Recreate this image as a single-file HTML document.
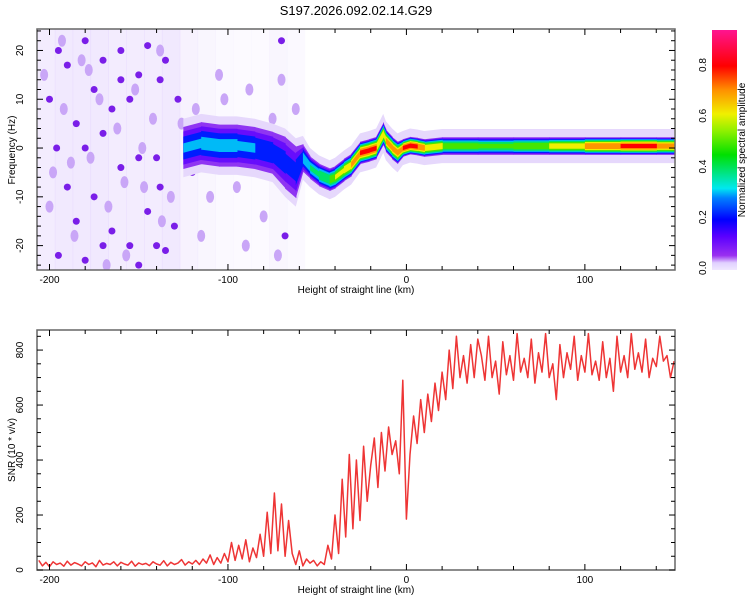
<!DOCTYPE html>
<html><head><meta charset="utf-8">
<style>
html,body{margin:0;padding:0;background:#fff;}
svg text{font-family:"Liberation Sans",sans-serif;fill:#000;}
</style></head>
<body>
<svg id="chart" width="750" height="600" viewBox="0 0 750 600" xmlns="http://www.w3.org/2000/svg">
<defs>
<linearGradient id="cbgrad" x1="0" y1="1" x2="0" y2="0">
<stop offset="0" stop-color="#f0e8ff"/><stop offset="0.03" stop-color="#e0d0ff"/>
<stop offset="0.06" stop-color="#9a30f0"/><stop offset="0.14" stop-color="#5a00ff"/>
<stop offset="0.21" stop-color="#0000ff"/><stop offset="0.3" stop-color="#0080ff"/>
<stop offset="0.34" stop-color="#00e8f0"/><stop offset="0.48" stop-color="#00e000"/>
<stop offset="0.58" stop-color="#90f000"/><stop offset="0.65" stop-color="#f0f000"/>
<stop offset="0.75" stop-color="#ff9000"/><stop offset="0.85" stop-color="#ff0000"/>
<stop offset="1" stop-color="#ff1490"/>
</linearGradient>
<clipPath id="clipTop"><rect x="37" y="29" width="638" height="241"/></clipPath>
<clipPath id="clipBot"><rect x="37" y="330" width="638" height="240"/></clipPath>
</defs>
<text x="356" y="15" font-size="13" text-anchor="middle">S197.2026.092.02.14.G29</text>
<g id="topg" clip-path="url(#clipTop)"></g>
<g id="botg" clip-path="url(#clipBot)"></g>
<g id="axes"></g>
<rect x="712" y="30" width="25" height="240" fill="url(#cbgrad)"/>
<text transform="translate(745,150) rotate(-90)" font-size="10" text-anchor="middle">Normalized spectral amplitude</text>
<text x="356" y="293" font-size="10" text-anchor="middle">Height of straight line (km)</text>
<text x="356" y="593" font-size="10" text-anchor="middle">Height of straight line (km)</text>
<text transform="translate(15,150) rotate(-90)" font-size="10" text-anchor="middle">Frequency (Hz)</text>
<text transform="translate(15,450) rotate(-90)" font-size="10" text-anchor="middle">SNR (10 * v/v)</text>
</svg>
<script>
// ---- data ----
const xTicksLabeled = [-200, -100, 0, 100];
const freqTicks = [-20, -10, 0, 10, 20];
const snrTicks = [0, 200, 400, 600, 800];
const cbTicks = [0.0, 0.2, 0.4, 0.6, 0.8];
const ridgeX = [-125,-115,-105,-95,-85,-75,-68,-62,-58,-54,-49,-43,-40,-35,-31,-26,-21,-17,-13,-11.5,-8,-5,-2,2,6,10,20,40,60,80,100,120,140,150];
const ridgeF = [0,1,0.5,0.5,0,-1,-3,-5,-2,-4,-5.5,-6.5,-6,-4.5,-3.5,-1,-0.5,0,3,1.5,0,-1,0,0.5,0.3,0,0.4,0.4,0.4,0.4,0.4,0.4,0.4,0.4];
const ridgeAmp = [0.3,0.35,0.35,0.35,0.3,0.3,0.25,0.25,0.35,0.4,0.45,0.55,0.6,0.65,0.7,0.8,0.85,0.8,0.6,0.7,0.8,0.7,0.8,0.85,0.8,0.75,0.6,0.5,0.55,0.6,0.7,0.85,0.8,0.7];
const ridgeWidth = [4,4,4,4,4,4,5,5,2.5,2,2,2,2,2,2,2,2,2,2,2,2,2,1.5,1.5,1.5,1.5,1.5,1.5,1.5,1.5,1.5,1.5,1.5,1.5];
const noiseBinX = [-207,-197,-187,-177,-167,-157,-147,-137,-127,-117,-107,-97,-87,-77,-67];
const noiseDensity = [0.45,0.5,0.5,0.5,0.45,0.45,0.45,0.5,0.3,0.2,0.15,0.12,0.12,0.2,0.15];
const blobX = [-195,-190,-180,-170,-160,-150,-145,-175,-165,-155,-185,-170,-150,-160,-190,-175,-145,-185,-165,-155,-140,-135,-195,-180,-150,-138,-140,-138,-180,-196,-130,-135,-128,-120,-70,-68,-65,-200,-170,-160];
const blobF = [20,17,22,18,20,15,21,12,8,10,5,3,-2,-4,-8,-10,-13,-15,-17,-20,-20,-21,-22,-23,-24,-8,-2,14,0,0,-16,18,10,-5,22,-18,-10,10,-20,14];
const lightBlobX = [-203,-198,-192,-186,-182,-177,-172,-167,-162,-157,-152,-147,-142,-137,-200,-193,-188,-178,-168,-158,-148,-138,-132,-126,-118,-110,-102,-95,-88,-80,-75,-70,-66,-62,-115,-105,-90,-72];
const lightBlobF = [15,-5,8,-18,18,-2,10,-12,4,-22,12,-8,6,-15,-12,22,-3,16,-24,-7,0,20,-10,5,8,-10,10,-8,12,-14,6,14,-4,8,-18,15,-20,-22];
const snrStart = -206, snrStep = 2;
const snrValues = [35,15,28,12,30,20,25,14,32,18,27,22,15,30,20,26,12,35,18,24,20,30,15,28,22,18,32,14,26,20,24,16,30,22,18,34,15,28,20,25,38,18,30,22,35,20,40,25,
55,20,45,25,60,30,100,35,90,40,
110,30,80,45,130,50,210,60,280,70,240,50,180,
60,20,70,15,40,25,35,15,30,20,
90,40,200,60,330,120,420,150,400,180,450,250,
380,480,300,500,360,520,420,470,350,
690,185,420,
560,460,620,500,640,540,680,580,
720,620,800,660,850,700,780,680,820,700,840,
780,690,850,700,760,640,830,710,780,690,860,720,770,700,840,680,790,720,860,700,750,620,820,700,790,730,850,690,780,720,860,710,760,690,830,700,770,650,850,720,780,700,860,730,790,720,840,700,770,740,850,760,780,700,760];

// ---- scales ----
const X0=37,X1=675,XMIN=-207,XMAX=150.5;
const sx=v=>X0+(v-XMIN)/(XMAX-XMIN)*(X1-X0);
const TY0=29,TY1=270,FMIN=-25,FMAX=24.4;
const sf=v=>TY1-(v-FMIN)/(FMAX-FMIN)*(TY1-TY0);
const BY0=330,BY1=570,SMIN=0,SMAX=873;
const ss=v=>BY1-(v-SMIN)/(SMAX-SMIN)*(BY1-BY0);
const cby=v=>268-v/0.8*(268-65);
const NS="http://www.w3.org/2000/svg";
function mk(tag,attrs,parent){const e=document.createElementNS(NS,tag);for(const k in attrs)e.setAttribute(k,attrs[k]);parent.appendChild(e);return e;}
const stops=[[0,[236,224,255]],[0.05,[150,60,240]],[0.14,[90,0,255]],[0.2,[0,0,255]],[0.3,[0,140,255]],[0.34,[0,232,240]],[0.48,[0,224,0]],[0.62,[240,240,0]],[0.72,[255,150,0]],[0.82,[255,0,0]],[0.95,[255,20,144]]];
function cmap(v){for(let i=1;i<stops.length;i++){if(v<=stops[i][0]){const a=stops[i-1],b=stops[i];const t=(v-a[0])/(b[0]-a[0]);const c=a[1].map((x,j)=>Math.round(x+(b[1][j]-x)*t));return `rgb(${c})`;}}return 'rgb(255,20,144)';}

const topG=document.getElementById('topg');
for(let i=0;i<noiseBinX.length;i++){
  const r=mk('rect',{x:sx(noiseBinX[i]),y:TY0,width:sx(noiseBinX[i]+10)-sx(noiseBinX[i])+0.5,height:TY1-TY0,fill:'#c8a8fa',opacity:noiseDensity[i]*0.5},topG);
  
  
}
for(let i=0;i<lightBlobX.length;i++){
  const c=mk('ellipse',{cx:sx(lightBlobX[i]),cy:sf(lightBlobF[i]),rx:4,ry:6,fill:'#c9a6f7'},topG);
  
  
}
for(let i=0;i<blobX.length;i++){
  const c=mk('circle',{cx:sx(blobX[i]),cy:sf(blobF[i]),r:3.5,fill:'#7a1ee8'},topG);
  
  
}
// halo
{
  let up='',dn='';
  for(let i=0;i<ridgeX.length;i++){up+=`${sx(ridgeX[i])},${sf(ridgeF[i]+ridgeWidth[i]+2)} `;}
  for(let i=ridgeX.length-1;i>=0;i--){dn+=`${sx(ridgeX[i])},${sf(ridgeF[i]-ridgeWidth[i]-2)} `;}
  const h=mk('polygon',{points:up+dn,fill:'#e6d8fc'},topG);
  
  
}
for(let k=0;k<10;k++){
  const lv=k*0.1;
  for(let i=0;i<ridgeX.length-1;i++){
    const a=(ridgeAmp[i]+ridgeAmp[i+1])/2;
    if(lv>=a)continue;
    const f1=1-lv/a,h1=ridgeWidth[i]*Math.pow(f1,0.7)+0.3,h2=ridgeWidth[i+1]*Math.pow(f1,0.7)+0.3;
    const xa=sx(ridgeX[i]),xb=sx(ridgeX[i+1])+0.6;
    const pts=`${xa},${sf(ridgeF[i]+h1)} ${xb},${sf(ridgeF[i+1]+h2)} ${xb},${sf(ridgeF[i+1]-h2)} ${xa},${sf(ridgeF[i]-h1)}`;
    const p=mk('polygon',{points:pts,fill:cmap(k===0?0.06:lv+0.02),stroke:'none'},topG);
    
    
  }
}
const botG=document.getElementById('botg');
const d=snrValues.map((v,i)=>(i?'L':'M')+sx(snrStart+i*snrStep).toFixed(1)+','+ss(v).toFixed(1)).join('');
const line=mk('path',{d:d,fill:'none',stroke:'#ee3535','stroke-width':1.5,'stroke-linejoin':'round'},botG);



const ax=document.getElementById('axes');
function frame(y0,y1,name){const r=mk('rect',{x:X0,y:y0,width:X1-X0,height:y1-y0,fill:'none',stroke:'#666','stroke-width':1.5},ax);}
frame(TY0,TY1,'top-plot-frame');frame(BY0,BY1,'bottom-plot-frame');
function xticks(y0,y1,pre){
  for(let v=-200;v<=150;v+=20){
    const L=(v%100===0)?6:4;const x=sx(v);
    mk('line',{x1:x,y1:y1,x2:x,y2:y1-L,stroke:'#000'},ax);mk('line',{x1:x,y1:y0,x2:x,y2:y0+L,stroke:'#000'},ax);
  }
  xTicksLabeled.forEach(v=>{const t=mk('text',{x:sx(v),y:y1+13,'font-size':10,'text-anchor':'middle'},ax);t.textContent=v;});
}
xticks(TY0,TY1,'top');xticks(BY0,BY1,'bottom');
for(let v=-24;v<=24;v+=2){const y=sf(v);const L=v%10===0?6:4;mk('line',{x1:X0,y1:y,x2:X0+L,y2:y,stroke:'#000'},ax);mk('line',{x1:X1,y1:y,x2:X1-L,y2:y,stroke:'#000'},ax);}
freqTicks.forEach(v=>{const t=mk('text',{transform:`translate(${X0-14},${sf(v)}) rotate(-90)`,'font-size':10,'text-anchor':'middle'},ax);t.textContent=v;});
for(let v=0;v<=850;v+=50){const y=ss(v);const L=v%200===0?6:4;mk('line',{x1:X0,y1:y,x2:X0+L,y2:y,stroke:'#000'},ax);mk('line',{x1:X1,y1:y,x2:X1-L,y2:y,stroke:'#000'},ax);}
snrTicks.forEach(v=>{const t=mk('text',{transform:`translate(${X0-14},${ss(v)}) rotate(-90)`,'font-size':10,'text-anchor':'middle'},ax);t.textContent=v;});
cbTicks.forEach(v=>{const t=mk('text',{transform:`translate(706,${cby(v)}) rotate(-90)`,'font-size':10,'text-anchor':'middle'},ax);t.textContent=v.toFixed(1);});
</script>
</body></html>
